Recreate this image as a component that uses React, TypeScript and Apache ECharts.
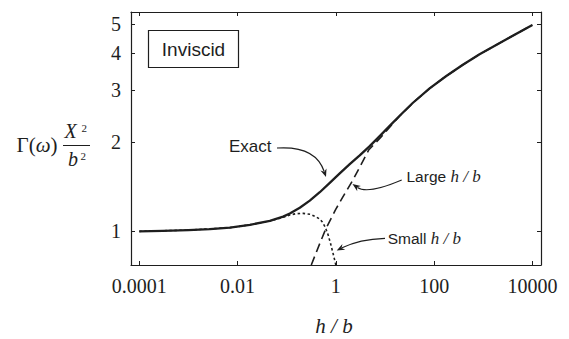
import React, { useEffect, useRef } from "react";
import * as echarts from "echarts";

// ---- data ----
const xTicks = [0.0001, 0.01, 1, 100, 10000];
const xTickLabels = ["0.0001", "0.01", "1", "100", "10000"];
const yTicks = [1, 2, 3, 4, 5];
const yTickLabels = ["1", "2", "3", "4", "5"];

const exactX = [0.0001, 0.0003, 0.001, 0.002735, 0.006974, 0.01778, 0.04533, 0.08449, 0.1156, 0.1846, 0.2947, 0.4709, 0.7516, 1.2, 1.917, 3.06, 4.888, 7.8, 12.46, 19.9, 37.1, 81, 177, 385, 841, 3162, 10000];
const exactY = [1.0, 1.004, 1.01, 1.017, 1.029, 1.052, 1.085, 1.121, 1.148, 1.201, 1.27, 1.355, 1.457, 1.569, 1.685, 1.804, 1.939, 2.096, 2.268, 2.455, 2.715, 3.035, 3.342, 3.647, 3.957, 4.472, 4.969];

const largeX = [0.316, 0.471, 0.624, 0.814, 1.0, 1.4, 2.24, 4.7, 8.45, 12.46, 19.9, 37.1, 81, 177, 385, 841, 3162, 10000];
const largeY = [0.77, 0.91, 1.019, 1.111, 1.188, 1.309, 1.493, 1.885, 2.085, 2.245, 2.45, 2.713, 3.035, 3.342, 3.647, 3.957, 4.472, 4.969];

const smallX = [0.0001, 0.001, 0.006974, 0.01778, 0.04533, 0.08449, 0.1156, 0.15, 0.2155, 0.3, 0.4, 0.469, 0.53, 0.595, 0.636, 0.694, 0.78, 0.877, 1.0];
const smallY = [1.0, 1.01, 1.029, 1.052, 1.083, 1.116, 1.135, 1.146, 1.15, 1.142, 1.118, 1.1, 1.076, 1.039, 1.012, 0.975, 0.91, 0.843, 0.77];

const X_MIN = Math.pow(10, -4.169);
const X_MAX = Math.pow(10, 4.175);
const Y_MIN = 0.77;
const Y_MAX = 5.494;

const INK = "#1e1e1e";
const SERIF = "'Liberation Serif', 'Times New Roman', serif";
const SANS = "'Liberation Sans', Arial, sans-serif";

function zip(xs: number[], ys: number[]) {
  return xs.map((x, i) => [x, ys[i]]);
}

function arrow(x0: number, y0: number, cx: number, cy: number, x1: number, y1: number) {
  const dx = x1 - cx;
  const dy = y1 - cy;
  const len = Math.sqrt(dx * dx + dy * dy);
  const ux = dx / len;
  const uy = dy / len;
  const hl = 8;
  const hw = 3.2;
  const bx = x1 - ux * hl;
  const by = y1 - uy * hl;
  return [
    {
      type: "bezierCurve",
      shape: { x1: x0, y1: y0, cpx1: cx, cpy1: cy, x2: bx + ux * 2, y2: by + uy * 2 },
      style: { stroke: INK, lineWidth: 1.2, fill: "none" },
      silent: true,
    },
    {
      type: "polygon",
      shape: {
        points: [
          [x1, y1],
          [bx - uy * hw, by + ux * hw],
          [bx + ux * 2.5, by + uy * 2.5],
          [bx + uy * hw, by - ux * hw],
        ],
      },
      style: { fill: INK },
      silent: true,
    },
  ];
}

function makeXAxis(pos: "bottom" | "top", showLabels: boolean) {
  return {
    type: "log",
    logBase: 10,
    position: pos,
    min: X_MIN,
    max: X_MAX,
    axisLine: { show: true, lineStyle: { color: INK, width: 1.2 } },
    axisTick: { show: true, inside: true, length: 4, customValues: xTicks, lineStyle: { color: INK, width: 1 } },
    axisLabel: {
      show: showLabels,
      customValues: xTicks,
      margin: 11,
      fontFamily: SERIF,
      fontSize: 20,
      color: INK,
      formatter: (v: number) => {
        const i = xTicks.findIndex((t) => Math.abs(Math.log10(t) - Math.log10(v)) < 1e-6);
        return i >= 0 ? xTickLabels[i] : "";
      },
    },
    splitLine: { show: false },
    minorTick: { show: false },
  };
}

function makeYAxis(pos: "left" | "right", showLabels: boolean) {
  return {
    type: "log",
    logBase: 10,
    position: pos,
    min: Y_MIN,
    max: Y_MAX,
    axisLine: { show: true, lineStyle: { color: INK, width: 1.2 } },
    axisTick: { show: true, inside: true, length: 4, customValues: yTicks, lineStyle: { color: INK, width: 1 } },
    axisLabel: {
      show: showLabels,
      customValues: yTicks,
      margin: 10,
      fontFamily: SERIF,
      fontSize: 20,
      color: INK,
      formatter: (v: number) => {
        const i = yTicks.findIndex((t) => Math.abs(t - v) < 1e-6);
        return i >= 0 ? yTickLabels[i] : "";
      },
    },
    splitLine: { show: false },
    minorTick: { show: false },
  };
}

export default function App() {
  const ref = useRef<HTMLDivElement>(null);

  useEffect(() => {
    if (!ref.current) return;
    const chart = echarts.init(ref.current, undefined, { renderer: "svg" });

    const graphics: any[] = [
      // Inviscid box
      {
        type: "rect",
        shape: { x: 148.5, y: 30.5, width: 90, height: 37 },
        style: { fill: "#fff", stroke: INK, lineWidth: 1.2 },
        z: 10,
      },
      {
        type: "text",
        x: 193.5,
        y: 49,
        style: { text: "Inviscid", fontFamily: SANS, fontSize: 19, fill: INK, align: "center", verticalAlign: "middle" },
        z: 11,
      },
      // Exact label
      {
        type: "text",
        x: 229,
        y: 146,
        style: { text: "Exact", fontFamily: SANS, fontSize: 17, fill: INK, align: "left", verticalAlign: "middle" },
      },
      ...arrow(277, 148, 315.5, 145.5, 326, 177),
      // Large h/b
      {
        type: "text",
        x: 406.5,
        y: 176,
        style: {
          text: "{s|Large }{i|h / b}",
          verticalAlign: "middle",
          align: "left",
          rich: {
            s: { fontFamily: SANS, fontSize: 15.5, fill: INK },
            i: { fontFamily: SERIF, fontStyle: "italic", fontSize: 17, fill: INK },
          },
        },
      },
      ...arrow(401.7, 180, 367.6, 194.5, 352.5, 184),
      // Small h/b
      {
        type: "text",
        x: 387.7,
        y: 238,
        style: {
          text: "{s|Small }{i|h / b}",
          verticalAlign: "middle",
          align: "left",
          rich: {
            s: { fontFamily: SANS, fontSize: 15.5, fill: INK },
            i: { fontFamily: SERIF, fontStyle: "italic", fontSize: 17, fill: INK },
          },
        },
      },
      ...arrow(385, 238.3, 359.2, 239.2, 336.7, 250.5),
      // y-axis title  Γ(ω) X²/b²
      {
        type: "text",
        x: 16.5,
        y: 145,
        style: {
          text: "{n|Γ(}{i|ω}{n|)}",
          verticalAlign: "middle",
          align: "left",
          rich: {
            n: { fontFamily: SERIF, fontSize: 21, fill: INK },
            i: { fontFamily: SERIF, fontStyle: "italic", fontSize: 21, fill: INK },
          },
        },
      },
      {
        type: "text",
        x: 64.5,
        y: 131,
        style: { text: "X", fontFamily: SERIF, fontStyle: "italic", fontSize: 20, fill: INK, align: "left", verticalAlign: "middle" },
      },
      {
        type: "text",
        x: 81.5,
        y: 127.5,
        style: { text: "2", fontFamily: SERIF, fontSize: 11, fill: INK, align: "left", verticalAlign: "middle" },
      },
      {
        type: "line",
        shape: { x1: 63, y1: 145.5, x2: 90, y2: 145.5 },
        style: { stroke: INK, lineWidth: 1 },
      },
      {
        type: "text",
        x: 68,
        y: 159,
        style: { text: "b", fontFamily: SERIF, fontStyle: "italic", fontSize: 20, fill: INK, align: "left", verticalAlign: "middle" },
      },
      {
        type: "text",
        x: 80.5,
        y: 155.5,
        style: { text: "2", fontFamily: SERIF, fontSize: 11, fill: INK, align: "left", verticalAlign: "middle" },
      },
      // x-axis title
      {
        type: "text",
        x: 334,
        y: 326,
        style: { text: "h / b", fontFamily: SERIF, fontStyle: "italic", fontSize: 21, fill: INK, align: "center", verticalAlign: "middle" },
      },
    ];

    chart.setOption({
      animation: false,
      backgroundColor: "#ffffff",
      grid: { left: 131, right: 28, top: 12, bottom: 74, containLabel: false },
      xAxis: [makeXAxis("bottom", true), makeXAxis("top", false)],
      yAxis: [makeYAxis("left", true), makeYAxis("right", false)],
      series: [
        {
          name: "Large h / b",
          type: "line",
          data: zip(largeX, largeY),
          showSymbol: false,
          smooth: false,
          lineStyle: { color: INK, width: 1.6, type: [9, 5], join: "round" },
          z: 2,
        },
        {
          name: "Small h / b",
          type: "line",
          data: zip(smallX, smallY),
          showSymbol: false,
          smooth: false,
          lineStyle: { color: INK, width: 1.6, type: [2.5, 2.5], join: "round" },
          z: 2,
        },
        {
          name: "Exact",
          type: "line",
          data: zip(exactX, exactY),
          showSymbol: false,
          smooth: false,
          lineStyle: { color: INK, width: 2.3, join: "round" },
          z: 3,
        },
      ],
      graphic: graphics,
    });

    return () => chart.dispose();
  }, []);

  return (
    <div
      ref={ref}
      style={{ position: "absolute", left: 0, top: 0, width: 569, height: 339, background: "#fff" }}
    />
  );
}
